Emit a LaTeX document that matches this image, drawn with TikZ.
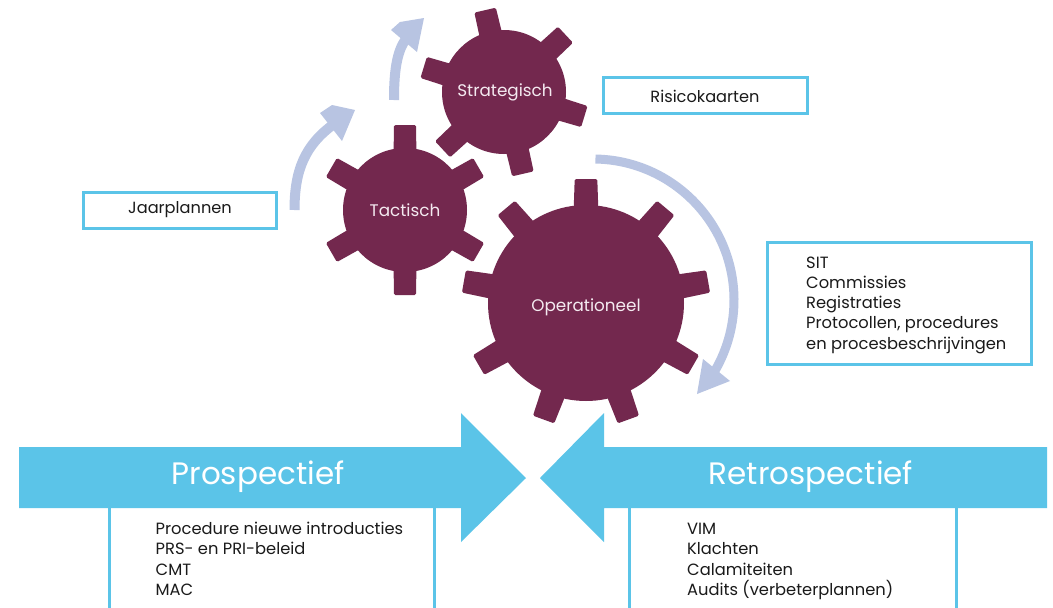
\documentclass[tikz,border=0pt]{standalone}
\usepackage{fontspec}
\setmainfont{Poppins}
\definecolor{gearc}{HTML}{73284E}
\definecolor{lav}{HTML}{B8C4E2}
\definecolor{sky}{HTML}{5BC4E8}
\definecolor{ink}{HTML}{1A1A1A}
\definecolor{gtext}{HTML}{F4EAF0}
% #1 cx, #2 cy, #3 body radius, #4 outer radius, #5 teeth, #6 offset angle, #7 half width base, #8 half width tip
\newcommand\mygear[8]{%
  \begin{scope}[shift={(#1,#2)}]
    \fill[gearc] (0,0) circle (#3);
    \foreach \k in {1,...,#5}{
      \fill[gearc, rounded corners=1.5, rotate={#6+360/#5*\k}]
        (#3-10,-#7) -- (#4,-#8) -- (#4,#8) -- (#3-10,#7) -- cycle;
    }
  \end{scope}}
\begin{document}
\begin{tikzpicture}[x=1pt,y=-1pt,
  gearlabel/.style={text=gtext, font=\fontsize{16.8}{20}\selectfont, inner sep=0},
  infobox/.style={draw=sky, line width=3, fill=white},
  boxtext/.style={text=ink, font=\fontsize{16.2}{19}\selectfont, inner sep=0},
  listline/.style={text=ink, font=\fontsize{16.3}{19}\selectfont, inner sep=0, anchor=base west},
  bigarrow/.style={fill=sky},
  bigtext/.style={text=white, font=\fontsize{31}{36}\selectfont, inner sep=0},
  sideline/.style={draw=sky, line width=3},
  shaft/.style={draw=lav, line width=10},
  head/.style={fill=lav}]
\useasboundingbox (0,0) rectangle (1053,608);
\fill[white] (0,0) rectangle (1053,608);

% curved arrows
\draw[shaft] (294.5,210) .. controls (294.5,170) and (305,145) .. (334,124);
\fill[head] (320,113) -- (332,105) -- (355,110) -- (342,141) -- cycle;
\draw[shaft] (394,100) .. controls (394,75) and (396,52) .. (406,39);
\fill[head] (391,30) -- (400,22) -- (424,18) -- (417,52) -- cycle;
\draw[shaft, line width=9] (593,300) ++(-89:141) arc[start angle=-89, end angle=32, radius=141];
\fill[head] (703,359) -- (730,381) -- (697,394) -- cycle;

% gears
\mygear{504}{92}{62}{84}{6}{43}{11.5}{11}
\mygear{405}{210}{62}{85}{6}{30}{11.5}{11}
\mygear{586}{303}{98}{124}{9}{90}{12.5}{11.3}
\node[gearlabel] (strat) at (505,92) {Strategisch};
\node[gearlabel] (tact) at (405,210) {Tactisch};
\node[gearlabel] (oper) at (586,307) {Operationeel};

% info boxes
\draw[infobox] (83,192) rectangle (276,228);
\node[boxtext] (jaar) at (180,210) {Jaarplannen};
\draw[infobox] (603,77) rectangle (807,113);
\node[boxtext] (risico) at (705,96) {Risicokaarten};
\draw[infobox] (767,242) rectangle (1031,364);
\foreach \t [count=\i] in {SIT,Commissies,Registraties,{Protocollen, procedures},en procesbeschrijvingen}{
  \node[listline] (sit\i) at (806,{262+20.3*(\i-1)+6}) {\t};
}

% big arrows
\fill[bigarrow] (19,447) -- (461,447) -- (461,413) -- (526,478) -- (461,542) -- (461,508) -- (19,508) -- cycle;
\fill[bigarrow] (1047,447) -- (604,447) -- (604,413) -- (540,478) -- (604,542) -- (604,508) -- (1047,508) -- cycle;
\node[bigtext] (prosp) at (258,477) {Prospectief};
\node[bigtext] (retro) at (811,477) {Retrospectief};

% lists below
\draw[sideline] (109.5,508) -- (109.5,608);
\draw[sideline] (434.5,508) -- (434.5,608);
\draw[sideline] (629,508) -- (629,608);
\draw[sideline] (956,508) -- (956,608);
\foreach \t [count=\i] in {Procedure nieuwe introducties,PRS- en PRI-beleid,CMT,MAC}{
  \node[listline] (pro\i) at (155.5,{528+20.5*(\i-1)+6}) {\t};
}
\foreach \t [count=\i] in {VIM,Klachten,Calamiteiten,Audits (verbeterplannen)}{
  \node[listline] (ret\i) at (687,{528+20.5*(\i-1)+6}) {\t};
}
\end{tikzpicture}
\end{document}
